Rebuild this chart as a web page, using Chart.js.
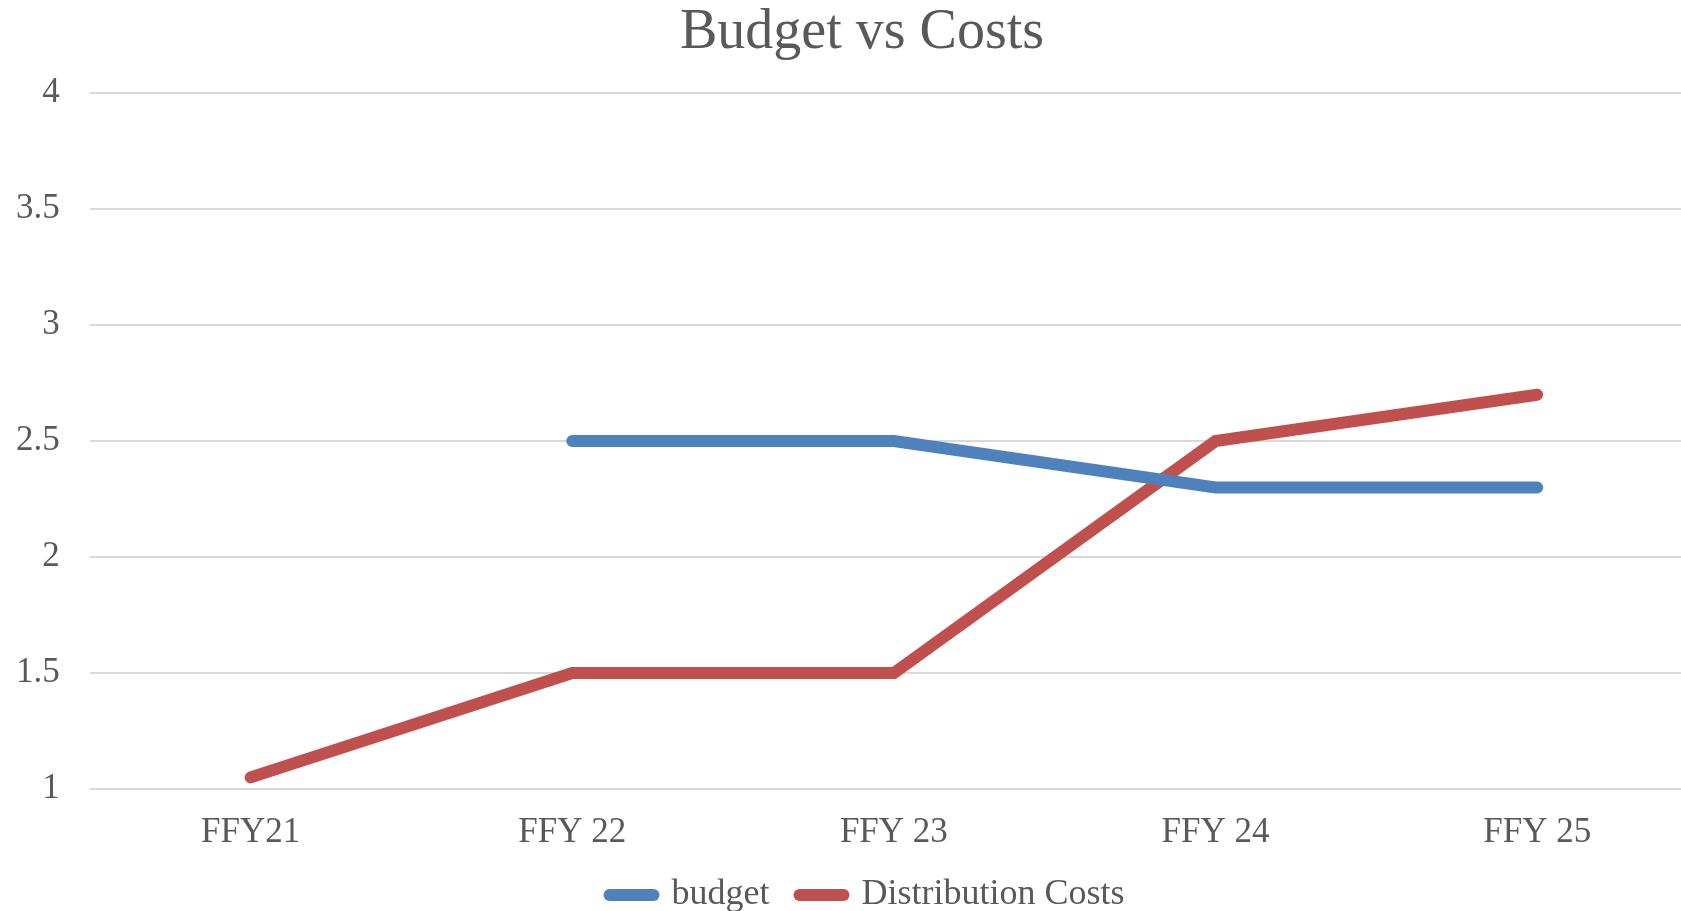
<!DOCTYPE html>
<html>
<head>
<meta charset="utf-8">
<script src="https://cdn.jsdelivr.net/npm/chart.js@4.4.0/dist/chart.umd.min.js"></script>
<style>
  html, body { margin: 0; padding: 0; background: #fff; overflow: hidden; }
  #wrap { width: 1698px; height: 911px; position: relative; }
</style>
</head>
<body>
<div id="wrap"><canvas id="chart"></canvas></div>
<script>
// chart data
const years = ["FFY21", "FFY 22", "FFY 23", "FFY 24", "FFY 25"];
const budget = [null, 2.5, 2.5, 2.3, 2.3];
const distributionCosts = [1.05, 1.5, 1.5, 2.5, 2.7];

const textColor = "#595959";
const serif = "'Liberation Serif', 'DejaVu Serif', serif";

// title and legend sit a bit right of the canvas centre in the original
const nudgeBoxes = {
    id: "nudgeBoxes",
    afterLayout(chart) {
        if (chart.titleBlock) chart.titleBlock.left += 40;
        if (chart.legend) chart.legend.left += 50;
    }
};

new Chart(document.getElementById("chart"), {
    type: "line",
    data: {
        labels: years,
        datasets: [
            {
                label: "budget",
                data: budget,
                borderColor: "#4f81bd",
                backgroundColor: "#4f81bd",
                borderWidth: 12,
                borderCapStyle: "round",
                pointRadius: 0,
                tension: 0
            },
            {
                label: "Distribution Costs",
                data: distributionCosts,
                borderColor: "#c0504d",
                backgroundColor: "#c0504d",
                borderWidth: 12,
                borderCapStyle: "round",
                pointRadius: 0,
                tension: 0
            }
        ]
    },
    options: {
        responsive: true,
        maintainAspectRatio: false,
        animation: false,
        // tick padding counts twice in the axis size, hence the negative left
        layout: { padding: { left: -14, right: 0, top: 0, bottom: -12 } },
        plugins: {
            title: {
                display: true,
                text: "Budget vs Costs",
                color: textColor,
                font: { family: serif, size: 56, weight: "normal" },
                padding: { top: 0, bottom: 26 }
            },
            legend: {
                position: "bottom",
                labels: {
                    color: textColor,
                    font: { family: serif, size: 36 },
                    usePointStyle: true,
                    pointStyle: "line",
                    pointStyleWidth: 44,
                    padding: 30,
                    generateLabels(chart) {
                        // round ends on the legend lines too
                        const items = Chart.defaults.plugins.legend.labels.generateLabels(chart);
                        items.forEach(it => { it.lineCap = "round"; });
                        return items;
                    }
                }
            },
            tooltip: { enabled: false }
        },
        scales: {
            x: {
                offset: true,
                grid: { display: false, drawTicks: false },
                border: { display: false },
                ticks: {
                    color: textColor,
                    font: { family: serif, size: 35, lineHeight: 1 },
                    padding: 26,
                    maxRotation: 0
                },
                afterFit(scale) { scale.height = 58; }
            },
            y: {
                min: 1,
                max: 4,
                grid: { color: "#d9d9d9", lineWidth: 2, drawTicks: false },
                border: { display: false },
                ticks: {
                    stepSize: 0.5,
                    color: textColor,
                    font: { family: serif, size: 35 },
                    padding: 30,
                    callback: v => String(v)
                }
            }
        }
    },
    plugins: [nudgeBoxes]
});
</script>
</body>
</html>
